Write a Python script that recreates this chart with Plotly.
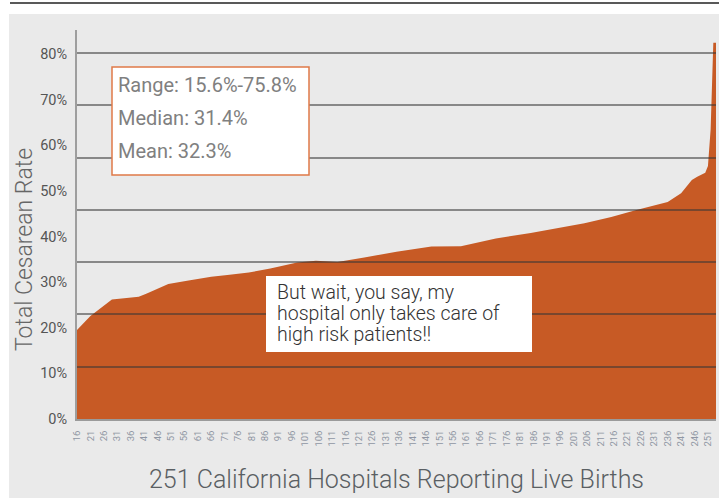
import plotly.graph_objects as go

# hospital rank (x) and total cesarean rate in % (y)
rank = [16, 21, 29, 39, 42, 50, 57, 66, 72, 80, 88, 98, 105, 113, 123, 135, 148, 159,
        172, 185, 205, 215, 224, 236, 241, 245, 247, 250, 251, 252, 253, 254]
rate = [19.5, 22.6, 26.2, 26.8, 27.5, 29.6, 30.3, 31.2, 31.6, 32.1, 33.0, 34.3, 34.7, 34.4,
        35.4, 36.7, 37.8, 37.9, 39.6, 40.8, 42.9, 44.3, 45.8, 47.6, 49.5, 52.4, 53.1, 54.0,
        55.5, 63.5, 82.5, 82.5]

y_ticks = list(range(0, 90, 10))
y_labels = [f"{v}%" for v in y_ticks]
x_ticks = list(range(16, 252, 5))

stats_lines = ["Range: 15.6%-75.8%", "Median: 31.4%", "Mean: 32.3%"]
callout_lines = ["But wait, you say, my", "hospital only takes care of", "high risk patients!!"]
x_title = "251 California Hospitals Reporting Live Births"
y_title = "Total Cesarean Rate"

ORANGE = "#C75A25"
BG = "#EAEAEA"
FONT = "Roboto"

# ── page geometry (px) ───────────────────────────────────────────────────────
W, H = 719, 498
L, R, T, B = 77, 3, 30, 79
PW, PH = W - L - R, H - T - B


def px_x(px):
    return (px - L) / PW


def px_y(py):
    return (H - B - py) / PH


def text_box(lines, left, top, right, bottom, first, step, size, color, weight, border=None):
    """White box with one annotation per line (the original uses its own line spacing)."""
    fig.add_shape(type="rect", xref="paper", yref="paper", layer="above",
                  x0=px_x(left), x1=px_x(right), y0=px_y(bottom), y1=px_y(top),
                  fillcolor="white",
                  line=dict(color=border or "white", width=1.5 if border else 0))
    for i, line in enumerate(lines):
        fig.add_annotation(
            text=line, xref="paper", yref="paper",
            x=px_x(left + 4 if border else left + 9), y=px_y(first + step * i),
            xanchor="left", yanchor="middle", showarrow=False,
            font=dict(size=size, color=color, family=FONT, weight=weight),
        )


fig = go.Figure()
fig.add_trace(go.Scatter(
    x=rank, y=rate, mode="lines", fill="tozeroy",
    line=dict(color=ORANGE, width=0), fillcolor=ORANGE,
    showlegend=False, hoverinfo="skip",
))
# empty overlay subplot: its grid sits on top of the area, like the original
fig.add_trace(go.Scatter(x=[], y=[], xaxis="x2", yaxis="y2", showlegend=False))

fig.update_layout(
    width=W, height=H,
    margin=dict(l=L, r=R, t=T, b=B),
    paper_bgcolor=BG, plot_bgcolor="rgba(0,0,0,0)",
    font=dict(family=FONT, color="#555"),
    xaxis=dict(
        range=[16, 254], tickvals=x_ticks, tickangle=-90,
        tickfont=dict(size=9.5, color="#8f96a3"),
        showgrid=False, zeroline=False, ticks="",
        showline=True, linecolor="#9a9a9a", linewidth=1.5,
        ticklabelstandoff=6,
    ),
    yaxis=dict(
        range=[0, 85.3], tickvals=y_ticks, ticktext=y_labels,
        tickfont=dict(size=14.5, color="#555"),
        showgrid=False, zeroline=False, ticks="",
        showline=True, linecolor="#9e9e9e", linewidth=2,
        ticklabelstandoff=5,
    ),
    xaxis2=dict(domain=[0, 1], anchor="y2", range=[0, 1], visible=False),
    yaxis2=dict(
        domain=[0, 1], anchor="x2", range=[0, 7.44], tick0=0, dtick=1,
        showgrid=True, gridcolor="rgba(55,55,55,0.55)", gridwidth=1.5,
        showticklabels=False, zeroline=False, showline=False, ticks="",
    ),
)

# white page edge and rule above the chart card
fig.add_shape(type="rect", xref="paper", yref="paper", layer="below",
              x0=px_x(0), x1=px_x(W), y0=px_y(14), y1=px_y(0),
              fillcolor="white", line=dict(width=0))
fig.add_shape(type="rect", xref="paper", yref="paper", layer="below",
              x0=px_x(0), x1=px_x(9), y0=px_y(H), y1=px_y(0),
              fillcolor="white", line=dict(width=0))
fig.add_shape(type="line", xref="paper", yref="paper",
              x0=px_x(10), x1=px_x(W), y0=px_y(3), y1=px_y(3),
              line=dict(color="#222", width=1.5))

# stats box and callout
text_box(stats_lines, 112, 67, 309, 175, 85, 33, 20, "#808080", 400, border="#E07A48")
text_box(callout_lines, 266, 276, 532, 352, 292, 21, 19.5, "#333", 300)

# axis titles
fig.add_annotation(
    text=x_title, xref="paper", yref="paper", x=0.5, y=px_y(479),
    xanchor="center", yanchor="middle", showarrow=False,
    font=dict(size=25, color="#5a5f63", family=FONT, weight=300),
)
fig.add_annotation(
    text=y_title, xref="paper", yref="paper", x=px_x(24), y=px_y(250),
    xanchor="center", yanchor="middle", textangle=-90, showarrow=False,
    font=dict(size=23, color="#666", family=FONT, weight=300),
)

# the page's default body margin would push the 719x498 figure off the window
fig.write_html("out.html", config={"displayModeBar": False},
               post_script="document.body.style.margin = '0px';")
